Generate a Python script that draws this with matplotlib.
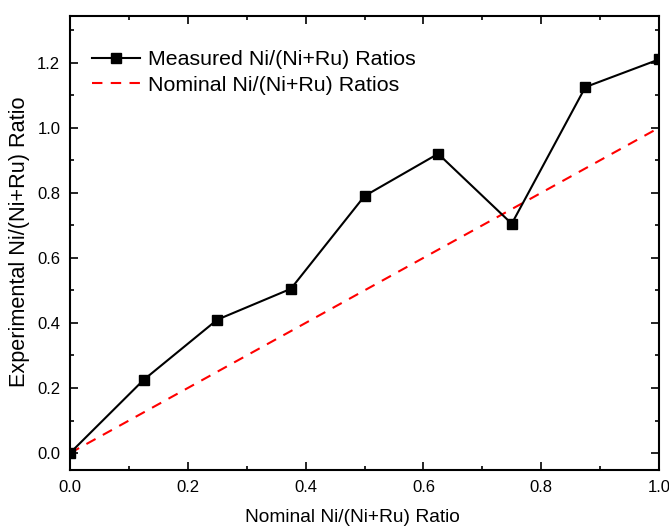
import matplotlib
matplotlib.use("Agg")
import matplotlib.pyplot as plt
from matplotlib.ticker import MultipleLocator, FormatStrFormatter

plt.rcParams['font.family'] = ['Liberation Sans', 'DejaVu Sans']

nominal_x = [0.0, 0.125, 0.25, 0.375, 0.5, 0.625, 0.75, 0.875, 1.0]
measured_y = [0.0, 0.225, 0.41, 0.505, 0.79, 0.92, 0.705, 1.125, 1.21]
nominal_line_x = [0.0, 1.0]
nominal_line_y = [0.0, 1.0]

W, H = 669, 529
L, R, T, B = 70, 659, 15.5, 470
fig = plt.figure(figsize=(W/100, H/100), dpi=100)
ax = fig.add_axes([L/W, 1-B/H, (R-L)/W, (B-T)/H])

ax.plot(nominal_x, measured_y, color='black', lw=1.5, marker='s', ms=6.5,
        label='Measured Ni/(Ni+Ru) Ratios', zorder=3, clip_on=True)
ax.plot(nominal_line_x, nominal_line_y, color='red', lw=1.5, ls=(0, (5, 4)),
        label='Nominal Ni/(Ni+Ru) Ratios', zorder=2)

ax.set_xlim(0, 1.0)
ax.set_ylim(-0.052, 1.345)
ax.xaxis.set_major_locator(MultipleLocator(0.2))
ax.xaxis.set_minor_locator(MultipleLocator(0.1))
ax.yaxis.set_major_locator(MultipleLocator(0.2))
ax.yaxis.set_minor_locator(MultipleLocator(0.1))
ax.xaxis.set_major_formatter(FormatStrFormatter('%.1f'))
ax.yaxis.set_major_formatter(FormatStrFormatter('%.1f'))
ax.tick_params(which='both', direction='in', top=True, right=True, labelsize=12, width=1.2)
ax.tick_params(which='major', length=6, pad=7)
ax.tick_params(which='minor', length=3)
for s in ax.spines.values():
    s.set_linewidth(1.5)

ax.set_xlabel('Nominal Ni/(Ni+Ru) Ratio', fontsize=13.8)
ax.xaxis.set_label_coords((352 - L)/(R - L), -(518 - B)/(B - T))
ax.xaxis.label.set_va('center')
ax.set_ylabel('Experimental Ni/(Ni+Ru) Ratio', fontsize=15.6)
ax.yaxis.set_label_coords(-(L - 19.5)/(R - L), (B - 241.5)/(B - T))
ax.yaxis.label.set_va('center')

leg = ax.legend(loc='upper left', frameon=False, fontsize=15.4, handlelength=2.25,
                bbox_to_anchor=((92 - L)/(R - L), (B - 50)/(B - T)), borderaxespad=0,
                borderpad=0, handletextpad=0.37, labelspacing=0.32)

fig.savefig('out.png', dpi=100)
